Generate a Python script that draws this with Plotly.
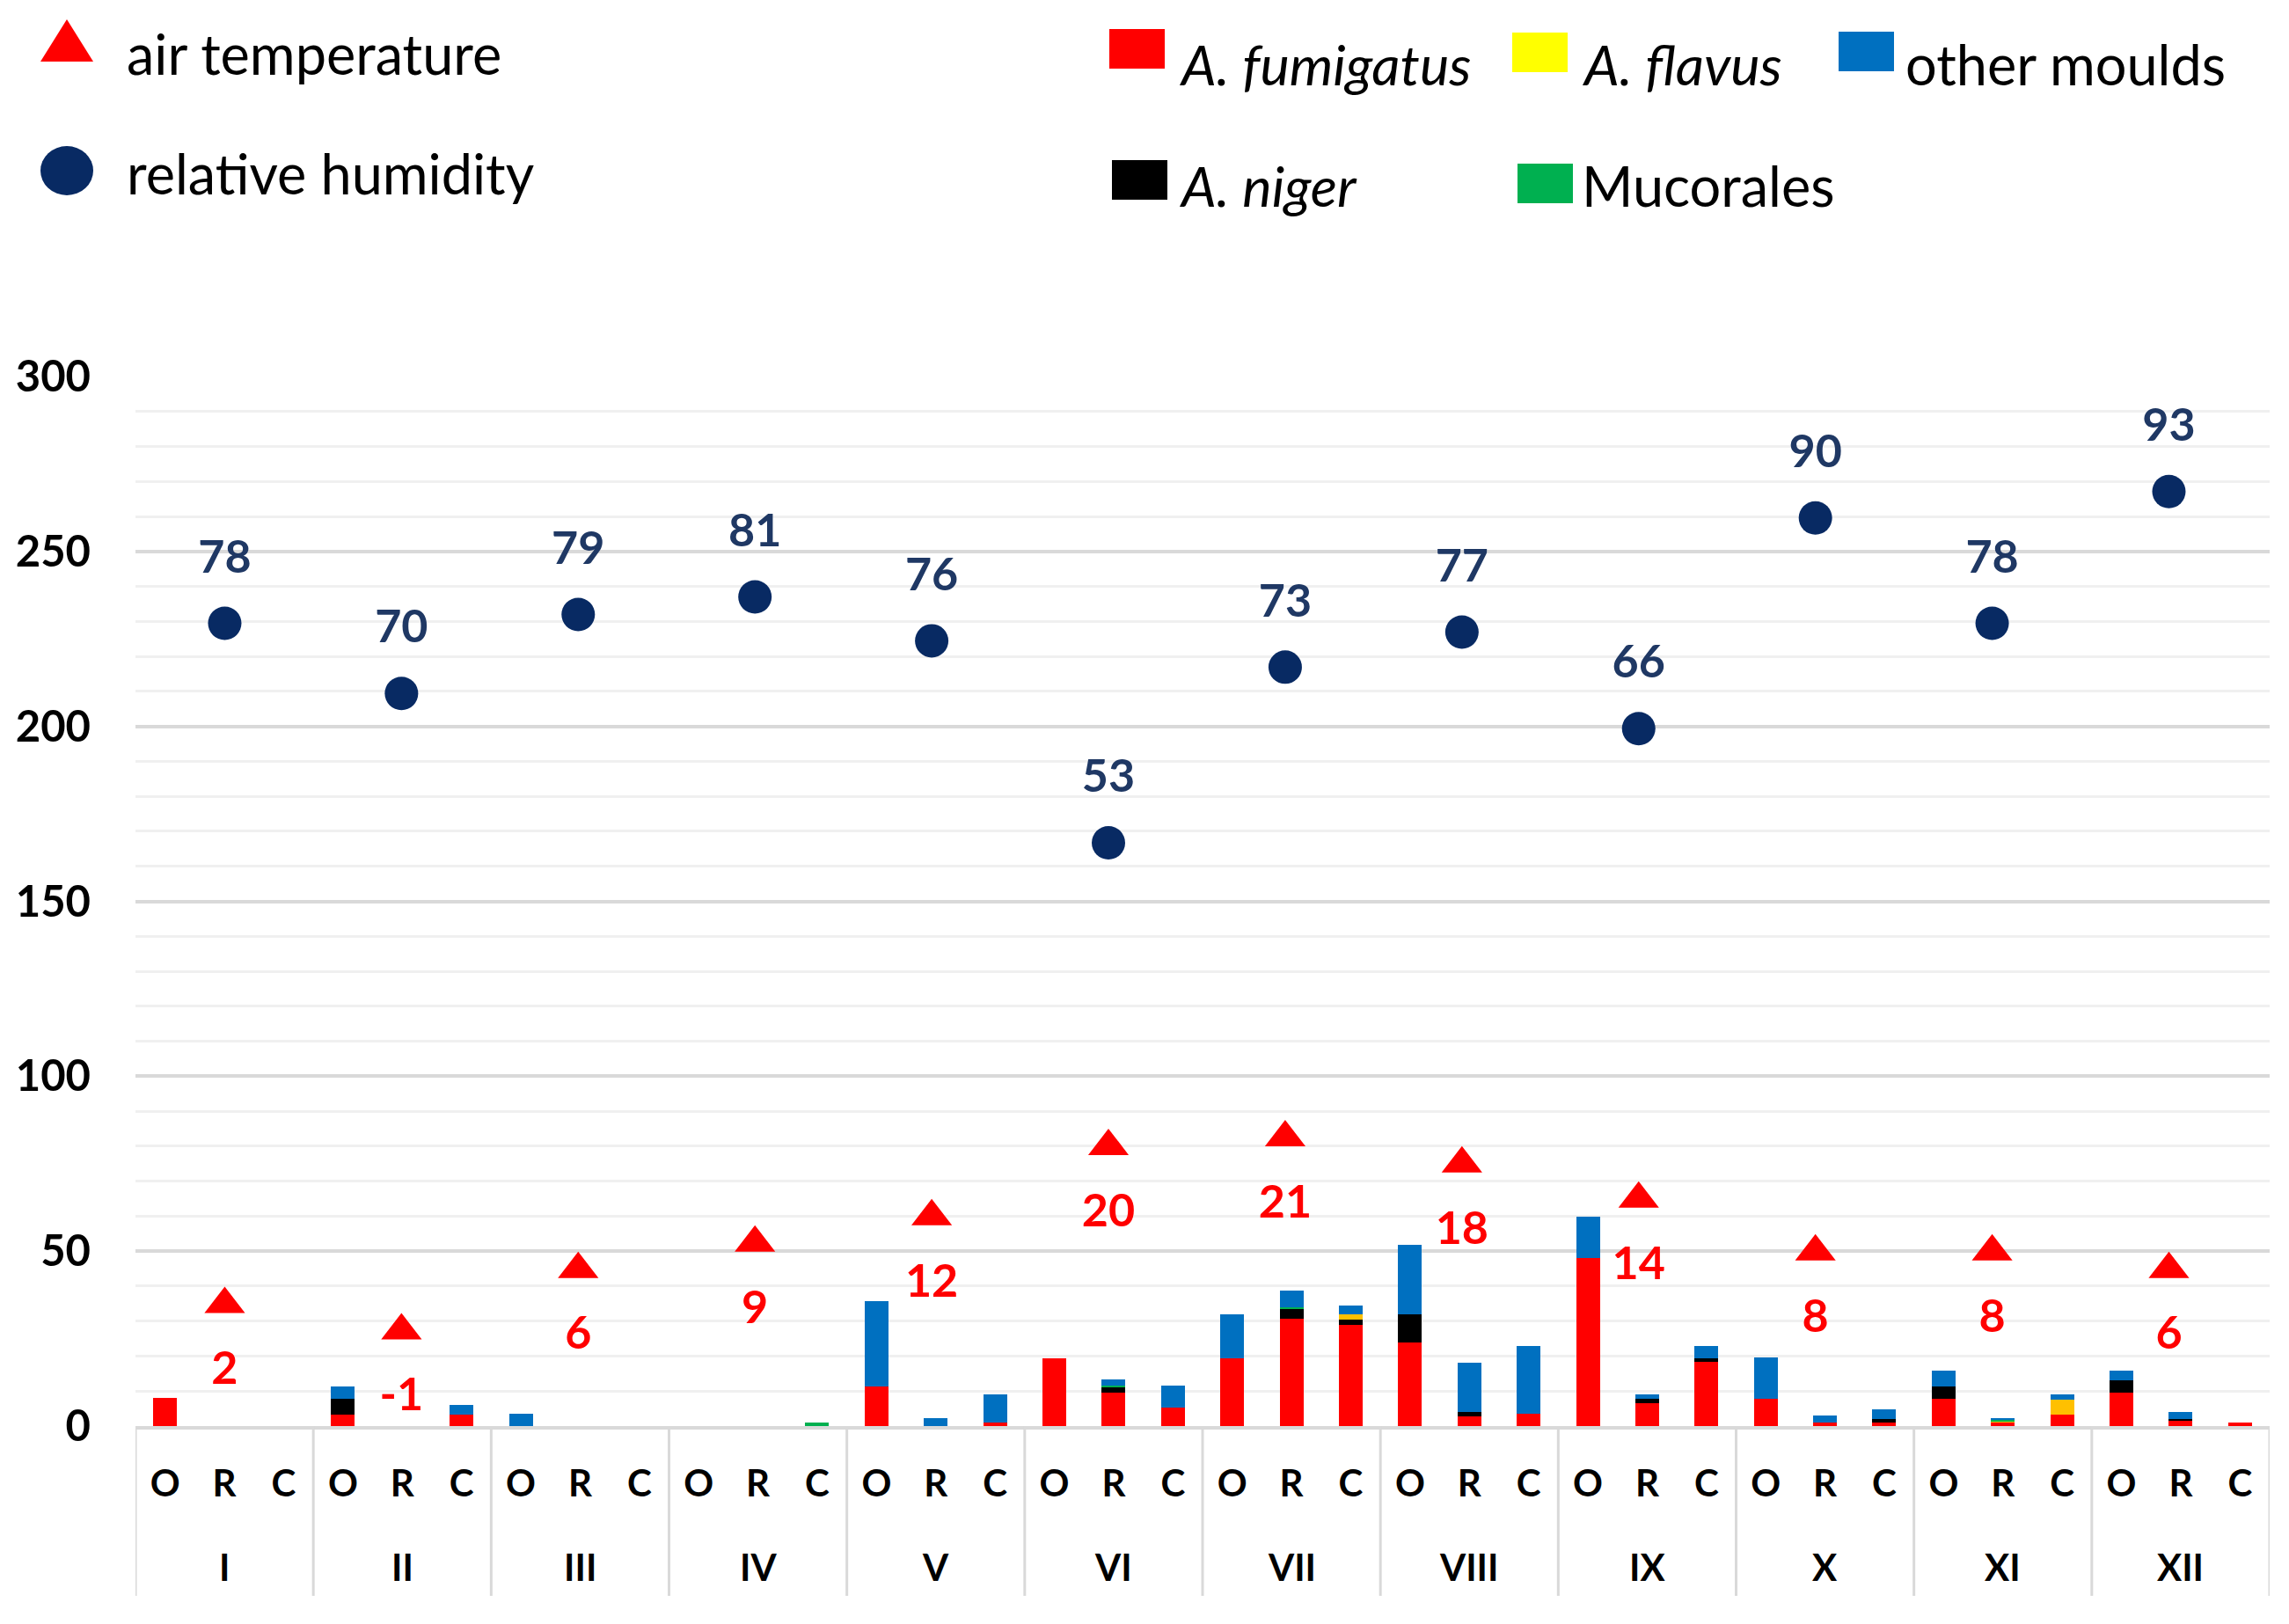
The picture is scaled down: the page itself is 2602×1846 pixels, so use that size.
import plotly.graph_objects as go

# ---------------- data ----------------
months = ["I", "II", "III", "IV", "V", "VI", "VII", "VIII", "IX", "X", "XI", "XII"]
sites = ["O", "R", "C"]

# values per month in order O, R, C
a_fumigatus = [8, 0, 0,   3.3, 0, 3.3,   0, 0, 0,   0, 0, 0,
               11.4, 0, 0.9,   19.4, 9.6, 5.3,   19.4, 30.7, 28.8,   23.9, 2.8, 3.4,
               48.1, 6.5, 18.3,   7.7, 0.9, 0.9,   7.7, 0.9, 3.3,   9.6, 1.5, 0.9]
a_niger = [0, 0, 0,   4.4, 0, 0,   0, 0, 0,   0, 0, 0,
           0, 0, 0,   0, 1.6, 0,   0, 2.8, 1.7,   8.0, 1.1, 0,
           0, 1.2, 1.1,   0, 0, 1.1,   3.5, 0, 0,   3.5, 0.6, 0]
a_flavus = [0, 0, 0,   0, 0, 0,   0, 0, 0,   0, 0, 0,
            0, 0, 0,   0, 0, 0,   0, 0, 1.4,   0, 0, 0,
            0, 0, 0,   0, 0, 0,   0, 0.6, 4.2,   0, 0, 0]
mucorales = [0, 0, 0,   0, 0, 0,   0, 0, 0,   0, 0, 0.9,
             0, 0, 0,   0, 0.4, 0,   0, 0.5, 0,   0, 0, 0,
             0, 0, 0,   0, 0, 0,   0, 0.3, 0,   0, 0, 0]
other_moulds = [0, 0, 0,   3.7, 0, 2.7,   3.4, 0, 0,   0, 0, 0,
                24.2, 2.2, 8.1,   0, 1.8, 6.2,   12.5, 4.7, 2.6,   19.8, 14.3, 19.4,
                11.8, 1.3, 3.4,   11.8, 2.1, 2.7,   4.6, 0.5, 1.5,   2.7, 1.9, 0]

air_temperature = [2, -1, 6, 9, 12, 20, 21, 18, 14, 8, 8, 6]
relative_humidity = [78, 70, 79, 81, 76, 53, 73, 77, 66, 90, 78, 93]

y_ticks = [0, 50, 100, 150, 200, 250, 300]

# ---------------- layout geometry (page px) ----------------
OFF = 8                      # default body margin of the html page
W, H = 2602 - OFF, 1846 - OFF
PLOT_L, PLOT_R, PLOT_T, PLOT_B = 154, 2580, 428, 1621   # page coordinates
L = PLOT_L - OFF
T = PLOT_T - OFF
R = 2602 - PLOT_R
B = 1846 - PLOT_B
PW = PLOT_R - PLOT_L
PH = PLOT_B - PLOT_T

def px(x):
    return (x - PLOT_L) / PW

def py(y):
    return (PLOT_B - y) / PH

FONT = "Lato"

cats = [f"{m} {s}" for m in months for s in sites]
cat_labels = [s for m in months for s in sites]

fig = go.Figure()

series = [
    ("A. fumigatus", a_fumigatus, "#FF0000"),
    ("A. niger", a_niger, "#000000"),
    ("A. flavus", a_flavus, "#FFC000"),
    ("Mucorales", mucorales, "#00B050"),
    ("other moulds", other_moulds, "#0070C0"),
]
for name, vals, col in series:
    fig.add_trace(go.Bar(x=cats, y=vals, name=name,
                         marker=dict(color=col, line=dict(width=0)),
                         showlegend=False))

# relative humidity (secondary hidden axes)
fig.add_trace(go.Scatter(x=months, y=relative_humidity, xaxis="x2", yaxis="y2", mode="markers",
                         marker=dict(symbol="circle", size=38, color="#082A63"),
                         showlegend=False, cliponaxis=False))
fig.add_trace(go.Scatter(x=months, y=[h + 7.1 for h in relative_humidity], xaxis="x2", yaxis="y2",
                         mode="text", text=[str(h) for h in relative_humidity],
                         textposition="middle center",
                         textfont=dict(family=FONT, size=52, color="#1F3864", weight="bold"),
                         showlegend=False, cliponaxis=False))

# air temperature (secondary hidden axes)
fig.add_trace(go.Scatter(x=months, y=air_temperature, xaxis="x2", yaxis="y3", mode="markers",
                         marker=dict(symbol="triangle-up", size=40, color="#FF0000"),
                         showlegend=False, cliponaxis=False))
fig.add_trace(go.Scatter(x=months, y=[t - 7.8 for t in air_temperature], xaxis="x2", yaxis="y3",
                         mode="text", text=[str(t) for t in air_temperature],
                         textposition="middle center",
                         textfont=dict(family=FONT, size=52, color="#FF0000", weight="bold"),
                         showlegend=False, cliponaxis=False))

shapes = []
annotations = []

# ---------------- month labels and group dividers ----------------
n_sites = len(sites)
for i, m in enumerate(months):
    annotations.append(dict(text=m, xref="x", yref="paper", x=f"{m} R", y=py(1781),
                            xanchor="center", yanchor="middle", showarrow=False,
                            font=dict(family=FONT, size=42, color="#000000", weight="bold")))
for k in range(len(months) + 1):
    xb = k * n_sites - 0.5
    shapes.append(dict(type="line", xref="x", yref="paper", x0=xb, x1=xb,
                       y0=0, y1=py(1814), line=dict(color="#D9D9D9", width=3)))

# ---------------- legend (drawn manually) ----------------
shapes.append(dict(type="path", xref="paper", yref="paper",
                   path=f"M {px(46)},{py(70)} L {px(106)},{py(70)} L {px(76)},{py(22)} Z",
                   fillcolor="#FF0000", line=dict(width=0)))
shapes.append(dict(type="circle", xref="paper", yref="paper",
                   x0=px(46), x1=px(106), y0=py(222), y1=py(166),
                   fillcolor="#082A63", line=dict(width=0)))

def text(label, x, y):
    annotations.append(dict(text=label, xref="paper", yref="paper", x=px(x), y=py(y),
                            xanchor="left", yanchor="middle", showarrow=False,
                            font=dict(family=FONT, size=63, color="#000000")))

text("air temperature", 142, 60)
text("relative humidity", 142, 196)

swatches = [
    ("<i>A. fumigatus</i>", "#FF0000", 1261, 33, 1338, 72),
    ("<i>A. flavus</i>", "#FFFF00", 1719, 37, 1796, 72),
    ("other moulds", "#0070C0", 2090, 36, 2164, 72),
    ("<i>A. niger</i>", "#000000", 1264, 182, 1338, 210),
    ("Mucorales", "#00B050", 1725, 186, 1796, 210),
]
for label, col, sx, sy, tx, ty in swatches:
    shapes.append(dict(type="rect", xref="paper", yref="paper",
                       x0=px(sx), x1=px(sx + 63), y0=py(sy + 45), y1=py(sy),
                       fillcolor=col, line=dict(width=0)))
    text(label, tx, ty)

fig.update_layout(
    width=W, height=H,
    margin=dict(l=L, r=R, t=T, b=B, autoexpand=False),
    paper_bgcolor="white", plot_bgcolor="white",
    barmode="stack", bargap=0.6,
    showlegend=False,
    font=dict(family=FONT, color="#000000"),
    xaxis=dict(type="category", categoryorder="array", categoryarray=cats,
               range=[-0.5, len(cats) - 0.5],
               tickvals=cats, ticktext=cat_labels,
               showgrid=False, showline=True, linecolor="#D9D9D9", linewidth=4,
               ticks="", ticklabelstandoff=26,
               tickfont=dict(family=FONT, size=42, color="#000000", weight="bold"),
               automargin=False),
    xaxis2=dict(type="category", categoryorder="array", categoryarray=months,
                range=[-0.505, 11.57], overlaying="x", visible=False),
    yaxis=dict(range=[0, 300], tickvals=y_ticks, showgrid=True,
               gridcolor="#D9D9D9", gridwidth=4, zeroline=False, showline=False,
               ticks="", ticklabelstandoff=50,
               tickfont=dict(family=FONT, size=49, color="#000000", weight="bold"),
               minor=dict(dtick=10, showgrid=True, gridcolor="#F0F0F0", gridwidth=3),
               automargin=False),
    yaxis2=dict(range=[-13.43, 106.1], overlaying="y", visible=False),
    yaxis3=dict(range=[-11.87, 107.65], overlaying="y", visible=False),
    shapes=shapes, annotations=annotations,
)

fig.write_html("out.html")
